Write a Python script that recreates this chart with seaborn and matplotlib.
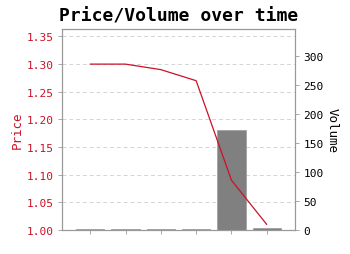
import matplotlib
matplotlib.use("Agg")
import matplotlib.pyplot as plt
import seaborn as sns
import pandas as pd

periods = ["P1", "P2", "P3", "P4", "P5", "P6"]
price = [1.30, 1.30, 1.29, 1.27, 1.09, 1.01]
volume = [1, 1, 1, 1, 173, 4]
price_ticks = [1.00, 1.05, 1.10, 1.15, 1.20, 1.25, 1.30, 1.35]
volume_ticks = [0, 50, 100, 150, 200, 250, 300]

df = pd.DataFrame({"period": periods, "price": price, "volume": volume})

sns.set_theme(style="white")
plt.rcParams["font.family"] = ["DejaVu Sans Mono", "DejaVu Sans"]

RED = "#cc1126"
SPINE = "#999999"

fig = plt.figure(figsize=(3.5, 2.55), dpi=100)
pos = [62/350, 24/255, (295-62)/350, (231-30)/255]
ax_p = fig.add_axes(pos)
ax_v = ax_p.twinx()
ax_l = fig.add_axes(pos, sharex=ax_p, sharey=ax_p)

ax_p.set_zorder(1)
ax_v.set_zorder(2)
ax_l.set_zorder(3)
ax_v.patch.set_visible(False)
ax_l.patch.set_visible(False)
ax_l.axis("off")

sns.barplot(data=df, x="period", y="volume", ax=ax_v, color="#808080",
            saturation=1, width=0.8, edgecolor="#a0a0a0", linewidth=0.6)
sns.lineplot(data=df, x="period", y="price", ax=ax_l, color=RED,
             linewidth=0.9, sort=False)

ax_p.set_xlim(-0.8, 5.8)
ax_p.set_ylim(1.0, 1.3635)
ax_v.set_ylim(0, 346)
ax_p.set_yticks(price_ticks)
ax_p.set_yticklabels([f"{t:.2f}" for t in price_ticks])
ax_v.set_yticks(volume_ticks)
ax_p.set_xticks(range(len(periods)))
ax_p.set_xticklabels([""] * len(periods))
ax_v.set_xlabel("")
ax_l.set_xlabel("")

ax_p.yaxis.grid(True, linestyle=(0, (4, 3)), color="#d4d4d4", linewidth=0.7)
ax_p.xaxis.grid(False)

for a in (ax_p, ax_v):
    for s in a.spines.values():
        s.set_color(SPINE)
        s.set_linewidth(0.8)
ax_p.tick_params(axis="y", colors=SPINE, labelcolor=RED, labelsize=8, length=3, width=0.6, pad=3, left=True)
ax_p.tick_params(axis="x", colors=SPINE, length=3, width=0.6, bottom=True)
ax_v.tick_params(axis="y", colors=SPINE, labelcolor="black", labelsize=8, length=3, width=0.6, pad=3, right=True)

ax_p.set_ylabel("Price", color=RED, fontsize=9, labelpad=2)
ax_v.set_ylabel("Volume", color="black", fontsize=9, rotation=270, labelpad=11)
ax_p.set_title("Price/Volume over time", fontsize=13, fontweight="bold",
               color="black", pad=6)

fig.savefig("out.png", dpi=100)
